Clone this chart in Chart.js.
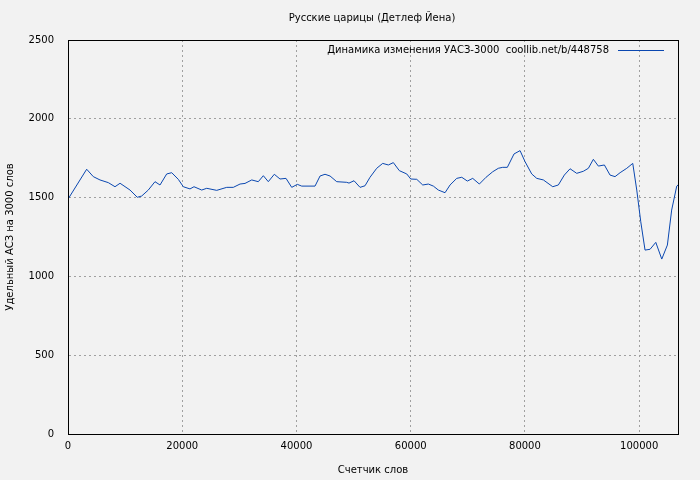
<!DOCTYPE html>
<html>
<head>
<meta charset="utf-8">
<script src="https://cdn.jsdelivr.net/npm/chart.js@4"></script>
<style>
  html, body { margin: 0; padding: 0; background: #f2f2f2; }
  #wrap { width: 700px; height: 480px; position: relative; }
</style>
</head>
<body>
<div id="wrap"><canvas id="chart"></canvas></div>
<script>
const chartTitle = 'Русские царицы (Детлеф Йена)';
const seriesLabel = 'Динамика изменения УАСЗ-3000  coollib.net/b/448758';
const xTitle = 'Счетчик слов';
const yTitle = 'Удельный АСЗ на 3000 слов';

// word counter positions
const words = [0, 3270, 4430, 5600, 7060, 8230, 9110, 10860, 12130, 12900, 14060, 15230, 16110, 17280,
  18160, 19310, 20190, 21360, 22060, 23410, 24290, 26040, 27790, 28940, 30120, 30990, 32170, 33320,
  34200, 35070, 36120, 37120, 38170, 39170, 40150, 40920, 43250, 44130, 45000, 45880, 47050, 48800,
  49200, 50080, 51130, 52000, 52880, 54050, 55100, 56090, 56960, 58010, 59310, 60010, 61060, 62110,
  63090, 63970, 64840, 66010, 66890, 68060, 68940, 69920, 70860, 72020, 73190, 74360, 75340, 76110,
  76920, 78090, 79150, 80020, 81190, 82070, 83230, 84870, 85850, 86900, 87900, 89070, 90230, 91110,
  91980, 92860, 93910, 94900, 95780, 96660, 97830, 98880, 99580, 100280, 101030, 101910, 102910,
  103960, 104940, 105690, 106580, 106800];
// specific ASZ per 3000 words
const asz = [1490, 1680, 1633, 1612, 1595, 1569, 1591, 1548, 1502, 1510, 1548, 1601, 1580, 1650,
  1658, 1616, 1569, 1555, 1569, 1548, 1559, 1546, 1565, 1565, 1586, 1590, 1612, 1601,
  1639, 1601, 1648, 1618, 1622, 1565, 1584, 1573, 1573, 1637, 1648, 1637, 1601, 1597,
  1592, 1607, 1565, 1575, 1629, 1686, 1717, 1707, 1722, 1671, 1650, 1618, 1616, 1580,
  1586, 1573, 1548, 1531, 1580, 1622, 1629, 1605, 1622, 1586, 1629, 1664, 1686, 1692,
  1692, 1777, 1798, 1728, 1650, 1622, 1612, 1569, 1580, 1643, 1683, 1654, 1667, 1686,
  1743, 1700, 1707, 1643, 1633, 1658, 1686, 1717, 1548, 1347, 1167, 1172, 1216,
  1110, 1199, 1421, 1573, 1580];

const xTicks = [0, 20000, 40000, 60000, 80000, 100000];
const yTicks = [0, 500, 1000, 1500, 2000, 2500];

const FONT = "'DejaVu Sans', sans-serif";
const lineColor = '#0a47b0';

// gnuplot-like frame, title and in-plot legend
const decor = {
  id: 'decor',
  afterDraw(chart) {
    const { ctx, chartArea: a } = chart;
    ctx.save();
    ctx.strokeStyle = '#000';
    ctx.lineWidth = 1;
    ctx.strokeRect(a.left + 0.5, a.top + 0.5, a.right - a.left, a.bottom - a.top);
    ctx.fillStyle = '#000';
    ctx.font = '10px ' + FONT;
    ctx.textAlign = 'center';
    ctx.textBaseline = 'middle';
    ctx.fillText(chartTitle, 372, 18);
    ctx.textAlign = 'right';
    ctx.fillText(seriesLabel, 609, 50);
    ctx.strokeStyle = lineColor;
    ctx.beginPath();
    ctx.moveTo(618, 50.5);
    ctx.lineTo(664, 50.5);
    ctx.stroke();
    ctx.restore();
  }
};

const grid = { color: '#a0a0a0', lineWidth: 1, drawTicks: false };
const border = { color: '#a0a0a0', dash: [2, 3] };
const tickFont = { family: FONT, size: 10 };

new Chart(document.getElementById('chart'), {
  type: 'line',
  data: {
    datasets: [{
      label: seriesLabel,
      data: words.map((w, i) => ({ x: w, y: asz[i] })),
      borderColor: lineColor,
      borderWidth: 1,
      pointRadius: 0,
      tension: 0,
      fill: false
    }]
  },
  options: {
    responsive: true,
    maintainAspectRatio: false,
    animation: false,
    layout: { padding: { top: 40, right: 22, left: 0, bottom: 0 } },
    plugins: { legend: { display: false }, tooltip: { enabled: false } },
    scales: {
      x: {
        type: 'linear',
        min: 0,
        max: 106800,
        afterBuildTicks: s => { s.ticks = xTicks.map(v => ({ value: v })); },
        afterFit: s => { s.height = 46; },
        grid,
        border,
        ticks: { color: '#000', font: tickFont, padding: 6, maxRotation: 0, callback: v => String(v) },
        title: { display: true, text: xTitle, color: '#000', font: tickFont, padding: { top: 4 } }
      },
      y: {
        min: 0,
        max: 2500,
        afterBuildTicks: s => { s.ticks = yTicks.map(v => ({ value: v })); },
        afterFit: s => { s.width = 68; },
        grid,
        border,
        ticks: { color: '#000', font: tickFont, padding: 14, callback: v => String(v) },
        title: { display: true, text: yTitle, color: '#000', font: tickFont, padding: { bottom: 10 } }
      }
    }
  },
  plugins: [decor]
});
</script>
</body>
</html>
